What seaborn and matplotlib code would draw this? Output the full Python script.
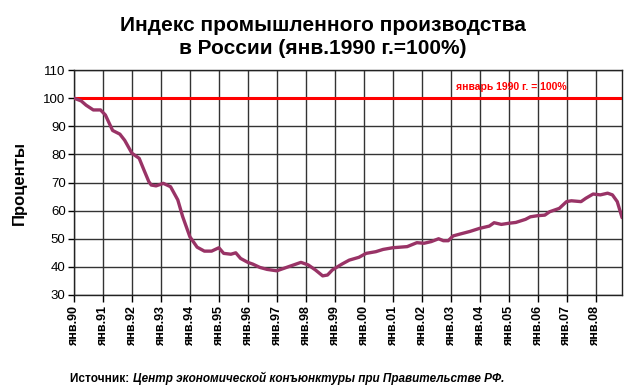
import matplotlib
matplotlib.use("Agg")
import matplotlib.pyplot as plt
import seaborn as sns
import pandas as pd

# months since January 1990 and index values (Jan 1990 = 100)
months = [0, 3, 5, 8, 11, 13, 16, 19, 21, 24, 27, 29, 31, 32, 34, 37, 40, 43, 45,
          48, 51, 54, 57, 60, 62, 65, 67, 69, 72, 74, 77, 80, 84, 87, 91, 94, 97,
          100, 103, 105, 107, 111, 114, 118, 121, 125, 128, 132, 135, 138, 142,
          145, 148, 151, 153, 155, 157, 160, 164, 168, 172, 174, 177, 180, 183,
          187, 189, 192, 195, 197, 201, 204, 206, 210, 212, 215, 218, 221, 223,
          225, 227]
values = [100, 99.0, 97.5, 95.8, 95.8, 94.0, 88.5, 87.2, 85.0, 80.4, 78.6, 74.4,
          70.3, 69.1, 68.8, 69.7, 68.5, 63.8, 57.9, 50.7, 47.0, 45.6, 45.6, 46.8,
          44.8, 44.5, 45.0, 43.0, 41.6, 41.0, 39.8, 39.1, 38.6, 39.5, 40.7, 41.6,
          40.7, 38.9, 36.8, 37.1, 38.9, 41.0, 42.4, 43.4, 44.8, 45.4, 46.2, 46.8,
          47.0, 47.2, 48.6, 48.4, 49.0, 50.0, 49.3, 49.3, 51.0, 51.7, 52.6, 53.7,
          54.5, 55.7, 55.1, 55.5, 55.8, 56.9, 57.8, 58.2, 58.4, 59.6, 60.8, 63.2,
          63.5, 63.2, 64.4, 65.9, 65.6, 66.2, 65.6, 63.2, 57.5]
tick_labels = ["янв.90", "янв.91", "янв.92", "янв.93", "янв.94", "янв.95",
               "янв.96", "янв.97", "янв.98", "янв.99", "янв.00", "янв.01",
               "янв.02", "янв.03", "янв.04", "янв.05", "янв.06", "янв.07",
               "янв.08"]
base_value = 100
title = "Индекс промышленного производства\nв России (янв.1990 г.=100%)"
ylabel = "Проценты"
base_label = "январь 1990 г. = 100%"
source_head = "Источник: "
source_body = "Центр экономической конъюнктуры при Правительстве РФ."

sns.set_theme(style="white")
plt.rcParams["font.family"] = ["Liberation Sans", "DejaVu Sans"]
plt.rcParams["text.color"] = "black"
plt.rcParams["axes.labelcolor"] = "black"
plt.rcParams["xtick.color"] = "black"
plt.rcParams["ytick.color"] = "black"

df = pd.DataFrame({"month": months, "value": values})

fig = plt.figure(figsize=(6.4, 3.9), dpi=100)
ax = fig.add_axes([0.1156, 0.2436, 0.8564, 0.5769])

ax.axhline(base_value, color="#FF0000", lw=2.2, zorder=3)
sns.lineplot(data=df, x="month", y="value", ax=ax, color="#993366", lw=2.4,
             zorder=4)

ax.set_xlim(0, 227)
ax.set_ylim(30, 110)
ax.set_yticks(range(30, 111, 10))
ax.set_xticks([12 * i for i in range(len(tick_labels))])
ax.set_xticklabels(tick_labels, rotation=90, fontweight="bold", fontsize=9)
ax.tick_params(axis="y", labelsize=9.5, length=4, width=1, direction="out",
               color="black", left=True, pad=2)
ax.tick_params(axis="x", length=5, width=1, direction="out", color="black",
               bottom=True, pad=3)
ax.grid(True, color="#333333", lw=1)
for s in ax.spines.values():
    s.set_color("#222222")
    s.set_linewidth(1)
ax.set_xlabel("")
ax.set_ylabel(ylabel, fontsize=12, fontweight="bold", labelpad=12)

ax.text(181, 104, base_label, color="#FF0000", fontsize=7.5,
        fontweight="bold", ha="center", va="center")

fig.text(0.505, 0.905, title, ha="center", va="center", fontsize=15,
         fontweight="bold", linespacing=1.25)

t1 = fig.text(0.11, 0.02, source_head, fontsize=8.5, fontweight="bold",
              ha="left", va="baseline")
fig.canvas.draw()
bb = t1.get_window_extent(renderer=fig.canvas.get_renderer())
x_next = bb.x1 / fig.bbox.width
fig.text(x_next, 0.02, source_body, fontsize=8.5, fontweight="bold",
         style="italic", ha="left", va="baseline")

fig.savefig("out.png", dpi=100)
